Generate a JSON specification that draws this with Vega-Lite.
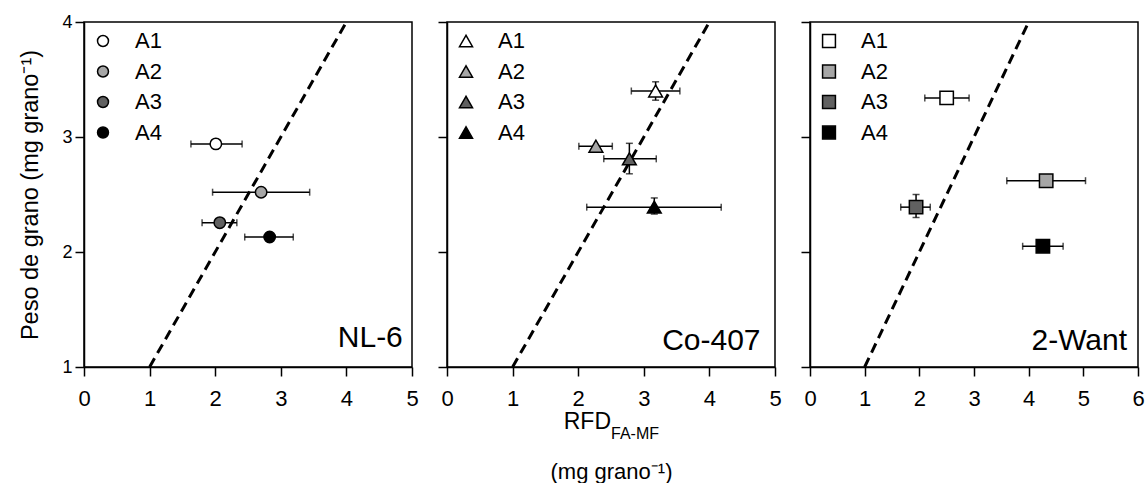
{
  "$schema": "https://vega.github.io/schema/vega-lite/v6.json",
  "padding": {"left": 18, "top": 12, "right": 0, "bottom": 0},
  "bounds": "flush",
  "spacing": 35,
  "config": {
    "font": "Liberation Sans",
    "view": {"stroke": "black", "strokeWidth": 1.5},
    "axis": {
      "domainColor": "black", "domainWidth": 1.5, "tickColor": "black", "tickWidth": 1.5, "tickSize": 9,
      "labelColor": "black", "labelFont": "Liberation Sans", "titleFont": "Liberation Sans", "titleFontWeight": "normal",
      "titleColor": "black", "grid": false, "labelFlush": false, "format": "d"
    },
    "axisX": {"labelFontSize": 22, "labelPadding": 12},
    "axisY": {"labelFontSize": 18, "labelPadding": 3, "titleFontSize": 23.5, "titlePadding": 19},
    "legend": {
      "orient": "top-left", "offset": 8, "padding": 0, "labelFontSize": 22, "labelFont": "Liberation Sans", "labelColor": "black",
      "symbolSize": 150, "rowPadding": 8.5, "labelOffset": 21, "symbolStrokeColor": "black", "symbolStrokeWidth": 1.5
    }
  },
  "datasets": {
    "nl6": [
      {"trt": "A1", "x": 2.01, "y": 2.94, "xlo": 1.63, "xhi": 2.41, "ylo": null, "yhi": null},
      {"trt": "A2", "x": 2.70, "y": 2.52, "xlo": 1.96, "xhi": 3.44, "ylo": null, "yhi": null},
      {"trt": "A3", "x": 2.07, "y": 2.255, "xlo": 1.80, "xhi": 2.33, "ylo": null, "yhi": null},
      {"trt": "A4", "x": 2.83, "y": 2.13, "xlo": 2.45, "xhi": 3.19, "ylo": null, "yhi": null}
    ],
    "co407": [
      {"trt": "A1", "x": 3.18, "y": 3.40, "xlo": 2.81, "xhi": 3.55, "ylo": 3.32, "yhi": 3.48},
      {"trt": "A2", "x": 2.27, "y": 2.92, "xlo": 2.01, "xhi": 2.52, "ylo": null, "yhi": null},
      {"trt": "A3", "x": 2.78, "y": 2.81, "xlo": 2.39, "xhi": 3.19, "ylo": 2.68, "yhi": 2.945},
      {"trt": "A4", "x": 3.16, "y": 2.39, "xlo": 2.13, "xhi": 4.18, "ylo": 2.33, "yhi": 2.47}
    ],
    "want": [
      {"trt": "A1", "x": 2.50, "y": 3.34, "xlo": 2.10, "xhi": 2.91, "ylo": null, "yhi": null},
      {"trt": "A2", "x": 4.32, "y": 2.62, "xlo": 3.60, "xhi": 5.04, "ylo": null, "yhi": null},
      {"trt": "A3", "x": 1.94, "y": 2.39, "xlo": 1.66, "xhi": 2.20, "ylo": 2.30, "yhi": 2.50},
      {"trt": "A4", "x": 4.26, "y": 2.05, "xlo": 3.89, "xhi": 4.63, "ylo": null, "yhi": null}
    ],
    "diag": [{"x": 1, "y": 1}, {"x": 4, "y": 4}]
  },
  "hconcat": [
    {
      "width": 328, "height": 345,
      "layer": [
        {"data": {"name": "diag"}, "mark": {"type": "line", "strokeDash": [10, 6], "strokeWidth": 3, "color": "black"},
         "encoding": {
           "x": {"field": "x", "type": "quantitative", "scale": {"domain": [0, 5], "nice": false}, "axis": {"values": [0, 1, 2, 3, 4, 5], "title": null}},
           "y": {"field": "y", "type": "quantitative", "scale": {"domain": [1, 4], "nice": false, "zero": false}, "axis": {"values": [1, 2, 3, 4], "title": "Peso de grano (mg grano⁻¹)"}}
         }},
        {"data": {"name": "nl6"}, "mark": {"type": "rule", "strokeWidth": 1.5, "color": "black"},
         "encoding": {"x": {"field": "xlo", "type": "quantitative"}, "x2": {"field": "xhi"}, "y": {"field": "y", "type": "quantitative"}}},
        {"data": {"name": "nl6"}, "mark": {"type": "tick", "orient": "vertical", "size": 7, "thickness": 1.5, "color": "black"},
         "encoding": {"x": {"field": "xlo", "type": "quantitative"}, "y": {"field": "y", "type": "quantitative"}}},
        {"data": {"name": "nl6"}, "mark": {"type": "tick", "orient": "vertical", "size": 7, "thickness": 1.5, "color": "black"},
         "encoding": {"x": {"field": "xhi", "type": "quantitative"}, "y": {"field": "y", "type": "quantitative"}}},
        {"data": {"name": "nl6"}, "mark": {"type": "point", "shape": "circle", "filled": true, "stroke": "black", "strokeWidth": 1.5, "size": 130, "opacity": 1},
         "encoding": {
           "x": {"field": "x", "type": "quantitative"}, "y": {"field": "y", "type": "quantitative"},
           "fill": {"field": "trt", "type": "nominal", "scale": {"domain": ["A1", "A2", "A3", "A4"], "range": ["white", "#a6a6a6", "#606060", "black"]}, "legend": {"title": null, "symbolType": "circle", "symbolSize": 120}}
         }},
        {"data": {"values": [{"label": "NL-6"}]}, "mark": {"type": "text", "align": "right", "baseline": "alphabetic", "fontSize": 30, "color": "black"},
         "encoding": {"text": {"field": "label"}, "x": {"datum": 4.86}, "y": {"datum": 1.17}}}
      ]
    },
    {
      "width": 328, "height": 345,
      "layer": [
        {"data": {"name": "diag"}, "mark": {"type": "line", "strokeDash": [10, 6], "strokeWidth": 3, "color": "black"},
         "encoding": {
           "x": {"field": "x", "type": "quantitative", "scale": {"domain": [0, 5], "nice": false}, "axis": {"values": [0, 1, 2, 3, 4, 5], "title": "(mg grano⁻¹)", "titleFontSize": 22, "titlePadding": 52}},
           "y": {"field": "y", "type": "quantitative", "scale": {"domain": [1, 4], "nice": false, "zero": false}, "axis": {"values": [1, 2, 3, 4], "title": null, "labels": false}}
         }},
        {"data": {"name": "co407"}, "mark": {"type": "rule", "strokeWidth": 1.5, "color": "black"},
         "encoding": {"x": {"field": "xlo", "type": "quantitative"}, "x2": {"field": "xhi"}, "y": {"field": "y", "type": "quantitative"}}},
        {"data": {"name": "co407"}, "mark": {"type": "tick", "orient": "vertical", "size": 7, "thickness": 1.5, "color": "black"},
         "encoding": {"x": {"field": "xlo", "type": "quantitative"}, "y": {"field": "y", "type": "quantitative"}}},
        {"data": {"name": "co407"}, "mark": {"type": "tick", "orient": "vertical", "size": 7, "thickness": 1.5, "color": "black"},
         "encoding": {"x": {"field": "xhi", "type": "quantitative"}, "y": {"field": "y", "type": "quantitative"}}},
        {"data": {"name": "co407"}, "transform": [{"filter": "datum.ylo != null"}], "mark": {"type": "rule", "strokeWidth": 1.5, "color": "black"},
         "encoding": {"x": {"field": "x", "type": "quantitative"}, "y": {"field": "ylo", "type": "quantitative"}, "y2": {"field": "yhi"}}},
        {"data": {"name": "co407"}, "transform": [{"filter": "datum.ylo != null"}], "mark": {"type": "tick", "orient": "horizontal", "size": 7, "thickness": 1.5, "color": "black"},
         "encoding": {"x": {"field": "x", "type": "quantitative"}, "y": {"field": "ylo", "type": "quantitative"}}},
        {"data": {"name": "co407"}, "transform": [{"filter": "datum.ylo != null"}], "mark": {"type": "tick", "orient": "horizontal", "size": 7, "thickness": 1.5, "color": "black"},
         "encoding": {"x": {"field": "x", "type": "quantitative"}, "y": {"field": "yhi", "type": "quantitative"}}},
        {"data": {"name": "co407"}, "mark": {"type": "point", "shape": "triangle-up", "filled": true, "stroke": "black", "strokeWidth": 1.5, "size": 190, "opacity": 1},
         "encoding": {
           "x": {"field": "x", "type": "quantitative"}, "y": {"field": "y", "type": "quantitative"},
           "fill": {"field": "trt", "type": "nominal", "scale": {"domain": ["A1", "A2", "A3", "A4"], "range": ["white", "#a6a6a6", "#606060", "black"]}, "legend": {"title": null, "symbolType": "triangle-up", "symbolSize": 170}}
         }},
        {"data": {"values": [{"label": "Co-407"}]}, "mark": {"type": "text", "align": "right", "baseline": "alphabetic", "fontSize": 30, "color": "black"},
         "encoding": {"text": {"field": "label"}, "x": {"datum": 4.78}, "y": {"datum": 1.15}}},
        {"data": {"values": [{"main": "RFD", "sub": "FA-MF"}]}, "mark": {"type": "text", "align": "right", "baseline": "alphabetic", "fontSize": 23, "color": "black"},
         "encoding": {"text": {"field": "main"}, "x": {"datum": 2.5}, "y": {"datum": 0.46}}},
        {"data": {"values": [{"main": "RFD", "sub": "FA-MF"}]}, "mark": {"type": "text", "align": "left", "baseline": "alphabetic", "fontSize": 16, "color": "black"},
         "encoding": {"text": {"field": "sub"}, "x": {"datum": 2.5}, "y": {"datum": 0.373}}}
      ]
    },
    {
      "width": 328, "height": 345,
      "layer": [
        {"data": {"name": "diag"}, "mark": {"type": "line", "strokeDash": [10, 6], "strokeWidth": 3, "color": "black"},
         "encoding": {
           "x": {"field": "x", "type": "quantitative", "scale": {"domain": [0, 6], "nice": false}, "axis": {"values": [0, 1, 2, 3, 4, 5, 6], "title": null}},
           "y": {"field": "y", "type": "quantitative", "scale": {"domain": [1, 4], "nice": false, "zero": false}, "axis": {"values": [1, 2, 3, 4], "title": null, "labels": false}}
         }},
        {"data": {"name": "want"}, "mark": {"type": "rule", "strokeWidth": 1.5, "color": "black"},
         "encoding": {"x": {"field": "xlo", "type": "quantitative"}, "x2": {"field": "xhi"}, "y": {"field": "y", "type": "quantitative"}}},
        {"data": {"name": "want"}, "mark": {"type": "tick", "orient": "vertical", "size": 7, "thickness": 1.5, "color": "black"},
         "encoding": {"x": {"field": "xlo", "type": "quantitative"}, "y": {"field": "y", "type": "quantitative"}}},
        {"data": {"name": "want"}, "mark": {"type": "tick", "orient": "vertical", "size": 7, "thickness": 1.5, "color": "black"},
         "encoding": {"x": {"field": "xhi", "type": "quantitative"}, "y": {"field": "y", "type": "quantitative"}}},
        {"data": {"name": "want"}, "transform": [{"filter": "datum.ylo != null"}], "mark": {"type": "rule", "strokeWidth": 1.5, "color": "black"},
         "encoding": {"x": {"field": "x", "type": "quantitative"}, "y": {"field": "ylo", "type": "quantitative"}, "y2": {"field": "yhi"}}},
        {"data": {"name": "want"}, "transform": [{"filter": "datum.ylo != null"}], "mark": {"type": "tick", "orient": "horizontal", "size": 7, "thickness": 1.5, "color": "black"},
         "encoding": {"x": {"field": "x", "type": "quantitative"}, "y": {"field": "ylo", "type": "quantitative"}}},
        {"data": {"name": "want"}, "transform": [{"filter": "datum.ylo != null"}], "mark": {"type": "tick", "orient": "horizontal", "size": 7, "thickness": 1.5, "color": "black"},
         "encoding": {"x": {"field": "x", "type": "quantitative"}, "y": {"field": "yhi", "type": "quantitative"}}},
        {"data": {"name": "want"}, "mark": {"type": "point", "shape": "square", "filled": true, "stroke": "black", "strokeWidth": 1.5, "size": 180, "opacity": 1},
         "encoding": {
           "x": {"field": "x", "type": "quantitative"}, "y": {"field": "y", "type": "quantitative"},
           "fill": {"field": "trt", "type": "nominal", "scale": {"domain": ["A1", "A2", "A3", "A4"], "range": ["white", "#a6a6a6", "#606060", "black"]}, "legend": {"title": null, "symbolType": "square", "symbolSize": 165}}
         }},
        {"data": {"values": [{"label": "2-Want"}]}, "mark": {"type": "text", "align": "right", "baseline": "alphabetic", "fontSize": 30, "color": "black"},
         "encoding": {"text": {"field": "label"}, "x": {"datum": 5.8}, "y": {"datum": 1.15}}}
      ]
    }
  ],
  "resolve": {"scale": {"fill": "independent"}, "legend": {"fill": "independent"}}
}
